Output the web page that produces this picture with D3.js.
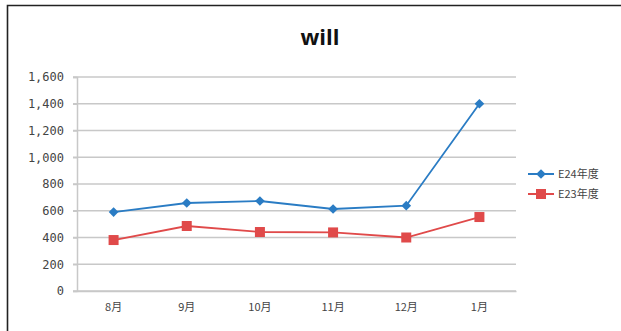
<!DOCTYPE html>
<html>
<head>
<meta charset="utf-8">
<script src="https://cdn.jsdelivr.net/npm/d3@7"></script>
<style>
  body { margin: 0; background: #fff; }
  svg { display: block; }
</style>
</head>
<body>
<script>
// data
var months = ["8月", "9月", "10月", "11月", "12月", "1月"];
var e24 = [590, 658, 673, 613, 638, 1400];
var e23 = [381, 486, 441, 438, 400, 553];
var yTicks = [0, 200, 400, 600, 800, 1000, 1200, 1400, 1600];

var W = 621, H = 331;
var margin = {top: 77, left: 77, right: 105, bottom: 40};

var svg = d3.select("body").append("svg")
  .attr("width", W)
  .attr("height", H);

// outer frame (only top and left visible)
svg.append("path")
  .attr("d", "M7.5," + H + "V5.5H" + W)
  .attr("fill", "none")
  .attr("stroke", "#222")
  .attr("stroke-width", 1.6);

var x = d3.scaleBand()
  .domain(months)
  .range([margin.left, 516]);

var y = d3.scaleLinear()
  .domain([0, 1600])
  .range([291, margin.top]);

// gridlines
svg.append("g")
  .selectAll("line")
  .data(yTicks)
  .enter().append("line")
    .attr("x1", margin.left - 4)
    .attr("x2", 516)
    .attr("y1", function(d) { return y(d); })
    .attr("y2", function(d) { return y(d); })
    .attr("stroke", "#c8c8c8")
    .attr("stroke-width", 1.5);

// y axis
var yAxis = svg.append("g")
  .attr("transform", "translate(" + margin.left + ",0)")
  .call(d3.axisLeft(y).tickValues(yTicks).tickSize(4).tickPadding(9)
    .tickFormat(d3.format(",")));
yAxis.select(".domain").attr("stroke", "#c8c8c8").attr("stroke-width", 1.5);
yAxis.selectAll(".tick line").attr("stroke", "#c8c8c8").attr("stroke-width", 1.5);
yAxis.selectAll("text")
  .attr("fill", "#444")
  .style("font-family", "'DejaVu Sans Mono', monospace")
  .style("font-size", "12px");

// x axis
var xAxis = svg.append("g")
  .attr("transform", "translate(0,291)")
  .call(d3.axisBottom(x).tickSize(0).tickPadding(12));
xAxis.select(".domain").attr("stroke", "#c8c8c8").attr("stroke-width", 1.5);
xAxis.selectAll("text")
  .attr("fill", "#444")
  .style("font-family", "'Noto Sans CJK JP', sans-serif")
  .style("font-size", "11px");

var cx = function(d, i) { return x(months[i]) + x.bandwidth() / 2; };

var line = d3.line()
  .x(function(d, i) { return cx(d, i); })
  .y(function(d) { return y(d); });

var blue = "#2a7cc4", red = "#e04a4a";

svg.append("path").datum(e24)
  .attr("d", line).attr("fill", "none")
  .attr("stroke", blue).attr("stroke-width", 1.8);
svg.append("path").datum(e23)
  .attr("d", line).attr("fill", "none")
  .attr("stroke", red).attr("stroke-width", 1.8);

var diamond = d3.symbol().type(d3.symbolDiamond2).size(60);

svg.append("g").selectAll("path")
  .data(e24)
  .enter().append("path")
    .attr("d", diamond)
    .attr("transform", function(d, i) { return "translate(" + cx(d, i) + "," + y(d) + ")"; })
    .attr("fill", blue);

svg.append("g").selectAll("rect")
  .data(e23)
  .enter().append("rect")
    .attr("x", function(d, i) { return cx(d, i) - 5; })
    .attr("y", function(d) { return y(d) - 5; })
    .attr("width", 10)
    .attr("height", 10)
    .attr("fill", red);

// title
svg.append("text")
  .attr("x", 320)
  .attr("y", 45)
  .attr("text-anchor", "middle")
  .style("font-family", "'Open Sans', sans-serif")
  .style("font-weight", "bold")
  .style("font-size", "22px")
  .attr("fill", "#111")
  .text("will");

// legend
var legend = [
  {name: "E24年度", color: blue, shape: "diamond"},
  {name: "E23年度", color: red, shape: "square"}
];
var lg = svg.append("g").selectAll("g")
  .data(legend)
  .enter().append("g")
    .attr("transform", function(d, i) { return "translate(528," + (174 + i * 20) + ")"; });
lg.append("line")
  .attr("x1", 0).attr("x2", 26)
  .attr("stroke", function(d) { return d.color; })
  .attr("stroke-width", 2);
lg.filter(function(d) { return d.shape == "diamond"; })
  .append("path")
  .attr("d", diamond)
  .attr("transform", "translate(13,0)")
  .attr("fill", function(d) { return d.color; });
lg.filter(function(d) { return d.shape == "square"; })
  .append("rect")
  .attr("x", 8).attr("y", -5).attr("width", 10).attr("height", 10)
  .attr("fill", function(d) { return d.color; });
lg.append("text")
  .attr("x", 30)
  .attr("dy", "0.35em")
  .attr("fill", "#444")
  .style("font-family", "'Noto Sans CJK JP', sans-serif")
  .style("font-size", "11px")
  .text(function(d) { return d.name; });
</script>
</body>
</html>
